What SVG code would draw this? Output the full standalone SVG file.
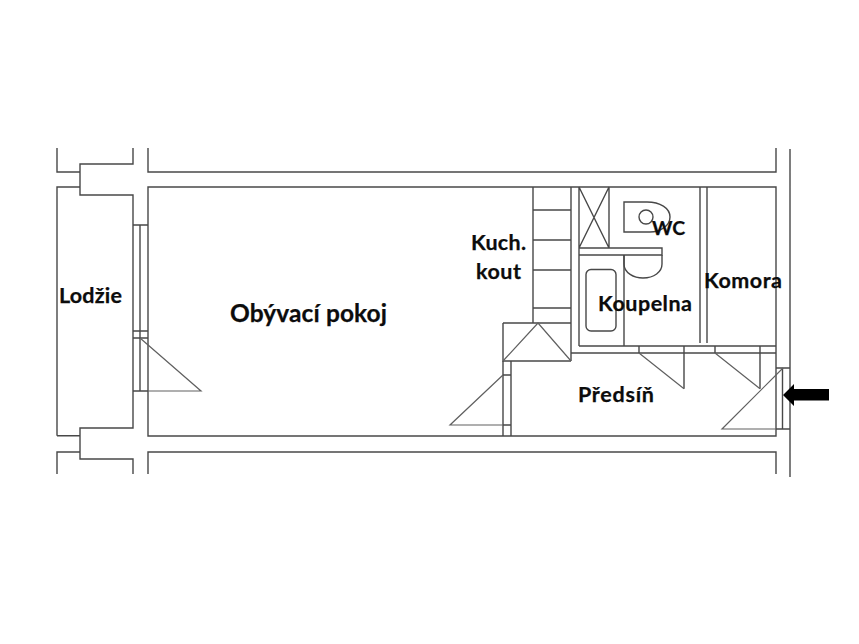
<svg xmlns="http://www.w3.org/2000/svg" width="859" height="644" viewBox="0 0 859 644">
<style>
.l{fill:none;stroke:#484848;stroke-width:1.4;stroke-linejoin:miter}
.t{stroke:#606060;stroke-width:1.2;fill:none}
text{font-family:"Lato","Liberation Sans",sans-serif;font-weight:700;font-size:21.500px;fill:#0c0c0c;stroke:#0c0c0c;stroke-width:.25}
</style>
<rect width="859" height="644" fill="#fff"/>
<g id="walls" class="l">
<path d="M57 148V172H80M80 172V164H133V148M57 435.7V187H80M80 172V195H133V428H80V459H133V474M57 435.7H80M57 474V452H80"/>
<path d="M148 148V172H776V148M148 187H776V436H148ZM148 474V452H776V474M790 149V477"/>
</g>
<g id="balcony-door" class="l">
<path d="M133 225H148M133 331H148M133 338H148M133 391H148M140 225V391"/>
<path class="t" d="M140 338L201 391H148"/>
</g>
<g id="kitchen" class="l">
<path d="M533 187V323M571 187V361M533 210H571M533 240H571M533 270H571M533 308H571M503 323H571M503 323V361H571"/>
<path class="t" d="M503 361L538 323L571 361"/>
</g>
<g id="inner-door" class="l">
<path d="M503 361V436M511 361V436M503 375H511M503 425H511"/>
<path class="t" d="M503 375L450 425H503"/>
</g>
<g id="bath-wc" class="l">
<path d="M579 187V346M609 187V248M579 187L609 248M609 187L579 248M579 248H662V255H579M624 255V346"/>
<rect x="586" y="269.500" width="30" height="61.500" rx="5"/>
<path d="M624 202H647C660 202 670 208 670 217C670 226 660 232 650 232H624Z"/>
<circle cx="646" cy="217" r="7"/>
<path d="M624 255V264C624 273 634 278 643 278C654 278 662 272 662 264V255"/>
</g>
<g id="partitions" class="l">
<path d="M579 346H776M571 353H776M700 187V343M707 187V343"/>
<path d="M639 346V353M684 346V388.700M715 346V353M760 346V388.700"/>
<path class="t" d="M639 353L684 388.700M715 353L760 388.700"/>
</g>
<g id="entrance" class="l">
<path d="M776 368H790M782.500 368V429M776 429H790"/>
<path class="t" d="M783 368L722 429H776"/>
</g>
<path id="arrow" d="M783 395L794 384V389H829V400.500H794V406Z" fill="#000"/>
<g id="labels">
<text x="59" y="303" textLength="63">Lodžie</text>
<text x="230" y="322" style="font-size:24.500px" textLength="157">Obývací pokoj</text>
<text x="471" y="250" textLength="55">Kuch.</text>
<text x="476" y="279" textLength="45">kout</text>
<text x="598" y="311" textLength="94">Koupelna</text>
<text x="652" y="235" style="font-size:19.500px">WC</text>
<text x="704" y="288" textLength="78">Komora</text>
<text x="578" y="402" textLength="76">Předsíň</text>
</g>
</svg>
